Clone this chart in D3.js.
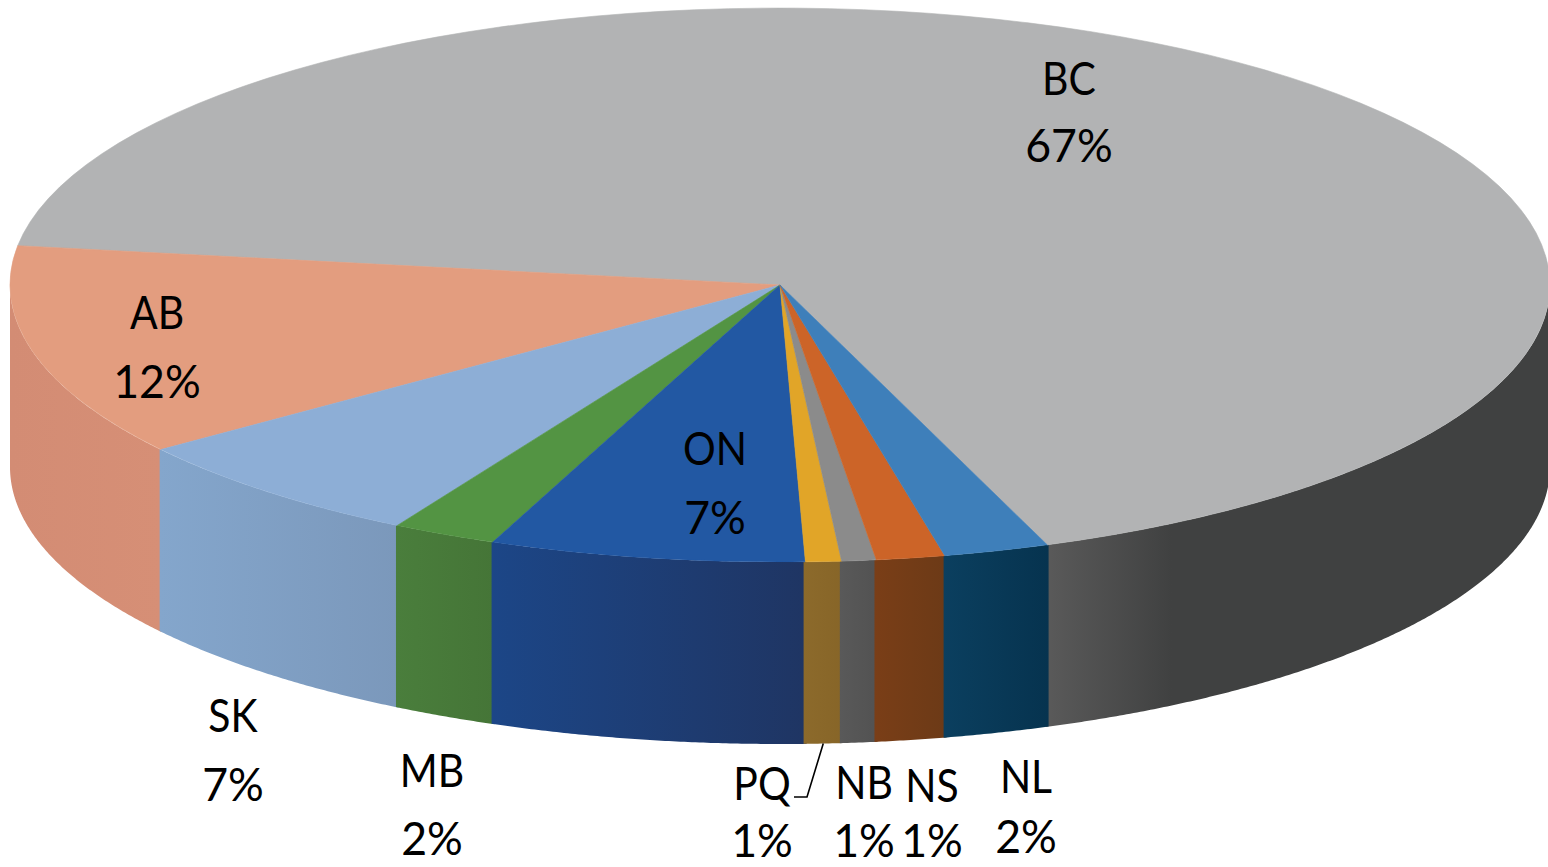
<!DOCTYPE html>
<html>
<head>
<meta charset="utf-8">
<script src="https://cdn.jsdelivr.net/npm/d3@7"></script>
<style>
  html, body { margin: 0; padding: 0; background: #ffffff; overflow: hidden; }
  svg { display: block; }
  text { font-family: Lato, "Open Sans", sans-serif; fill: #000; }
</style>
</head>
<body>
<svg id="chart" width="1548" height="867"></svg>
<script>
// ---- data ----
const categories = ["BC", "AB", "SK", "MB", "ON", "PQ", "NB", "NS", "NL"];
const values     = [67.1, 12.4, 6.6, 2.2, 6.6, 0.75, 0.72, 1.45, 2.2];

// ---- styling ----
const topColors  = ["#b2b3b4", "#e39d7f", "#8daed6", "#539443", "#2258a3", "#e1a528", "#8b8b8b", "#cc6428", "#3e7fba"];
const sideLight  = ["#5a5a5a", "#d38c74", "#84a6cc", "#4a7e3c", "#1c4687", "#8c6a2b", "#595959", "#7a3e17", "#0b3f5f"];
const sideDark   = ["#404141", "#d68f76", "#7b98bb", "#457537", "#1f3563", "#876528", "#525252", "#6c3a17", "#06334f"];
const darkStop   = [0.25, 1, 1, 1, 1, 1, 1, 1, 1];

// ---- layout ----
const W = 1548, H = 867;
const cx = 780, cy = 285, rx = 770, ry = 277, depth = 182;
const startDeg = 159.7;           // BC starts here and slices run counter-clockwise
const fontSize = 47;
const nameSqueeze = 0.87;         // narrower capitals, closer to the original face
const pctSqueeze = 0.95;
// label anchor: [x, baseline of name, baseline of percent]
const labelLayout = [
  [1069, 95, 162],
  [157, 329, 398],
  [233, 732, 801],
  [432, 787, 855],
  [715, 465, 534],
  [762, 800, 857],
  [864, 799, 857],
  [932, 802, 857],
  [1026, 793, 853]
];
const leaderIndex = 5;          // PQ
const leaderElbow = [[807, 797], [794, 797]];

const svg = d3.select("#chart");
const defs = svg.append("defs");

const total = d3.sum(values);
const data = categories.map((c, i) => ({ name: c, value: values[i], i }));

const toRad = d => d * Math.PI / 180;
const pie = d3.pie()
  .value(d => d.value)
  .sort(null)
  .startAngle(toRad(startDeg))
  .endAngle(toRad(startDeg - 360));
const arcs = pie(data);

// gradients for side walls
arcs.forEach((a, k) => {
  const g = defs.append("linearGradient")
    .attr("id", "side" + k)
    .attr("x1", "0").attr("y1", "0").attr("x2", "1").attr("y2", "0");
  g.append("stop").attr("offset", 0).attr("stop-color", sideLight[k]);
  g.append("stop").attr("offset", darkStop[k]).attr("stop-color", sideDark[k]);
  if (darkStop[k] < 1) g.append("stop").attr("offset", 1).attr("stop-color", sideDark[k]);
});

// ---- side walls (front half only: angles between 90° and 270°) ----
const px = a => cx + rx * Math.sin(a);
const py = a => cy - ry * Math.cos(a);
const sideArea = d3.area()
  .x(a => px(a))
  .y0(a => py(a))
  .y1(a => py(a) + depth);

const sideG = svg.append("g");
arcs.forEach((a, k) => {
  const lo = Math.min(a.startAngle, a.endAngle) - 0.002;
  const hi = Math.max(a.startAngle, a.endAngle) + 0.002;
  for (let s = -1; s <= 1; s++) {
    const l = Math.max(lo + 2 * Math.PI * s, Math.PI / 2);
    const h = Math.min(hi + 2 * Math.PI * s, 3 * Math.PI / 2);
    if (h > l) {
      const n = Math.max(8, Math.ceil((h - l) / 0.005));
      const angles = d3.range(n + 1).map(j => l + (h - l) * j / n);
      sideG.append("path")
        .attr("d", sideArea(angles))
        .attr("fill", `url(#side${k})`);
    }
  }
});

// ---- top face ----
const arcGen = d3.arc().innerRadius(0).outerRadius(1);
const topG = svg.append("g")
  .attr("transform", `translate(${cx},${cy}) scale(${rx},${ry})`);
topG.selectAll("path")
  .data(arcs)
  .join("path")
  .attr("d", arcGen)
  .attr("fill", (d, k) => topColors[k])
  .attr("stroke", (d, k) => topColors[k])
  .attr("stroke-width", 0.6)
  .attr("vector-effect", "non-scaling-stroke");

// ---- leader line for PQ ----
{
  const a = arcs[leaderIndex];
  const mid = (a.startAngle + a.endAngle) / 2;
  const pts = [[px(mid), py(mid) + depth], ...leaderElbow];
  svg.append("path")
    .attr("d", d3.line()(pts))
    .attr("fill", "none")
    .attr("stroke", "#000")
    .attr("stroke-width", 1.6);
}

// ---- labels ----
const labG = svg.append("g");
arcs.forEach((a, k) => {
  const [x, y1, y2] = labelLayout[k];
  labG.append("text")
    .attr("transform", `translate(${x},${y1}) scale(${nameSqueeze},1)`)
    .attr("text-anchor", "middle")
    .attr("font-size", fontSize)
    .text(a.data.name);
  labG.append("text")
    .attr("transform", `translate(${x},${y2}) scale(${pctSqueeze},1)`)
    .attr("text-anchor", "middle")
    .attr("font-size", fontSize)
    .text(Math.round(a.data.value / total * 100) + "%");
});
</script>
</body>
</html>
